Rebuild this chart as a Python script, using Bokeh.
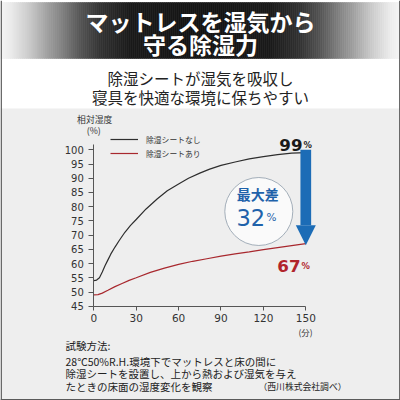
import numpy as np
from bokeh.plotting import figure
from bokeh.models import (Range1d, Label, Legend, LegendItem, Arrow, NormalHead,
                          FixedTicker)
from bokeh.core.properties import value
from bokeh.embed import file_html
from bokeh.resources import INLINE

# ---------------- data ----------------
title_lines = ["マットレスを湿気から", "守る除湿力"]
subtitle_lines = ["除湿シートが湿気を吸収し", "寝具を快適な環境に保ちやすい"]
series_names = ["除湿シートなし", "除湿シートあり"]

minutes_without = [0, 2, 4, 6, 8, 10, 12, 15, 18, 22, 26, 30, 37, 45, 52, 60,
                   67, 75, 82, 90, 100, 110, 120, 130, 140, 150]
humidity_without = [54.0, 54.2, 55.0, 57.0, 59.3, 61.3, 63.3, 65.8, 68.1, 71.0,
                    73.4, 75.5, 79.2, 82.8, 85.6, 88.0, 90.0, 91.8, 93.2, 94.5,
                    95.7, 96.8, 97.6, 98.3, 98.8, 99.0]

minutes_with = [0, 3, 6, 10, 15, 20, 25, 30, 40, 50, 60, 70, 80, 90, 100, 110,
                120, 130, 140, 150]
humidity_with = [49.0, 49.1, 49.6, 50.6, 51.9, 53.0, 54.1, 55.0, 56.9, 58.4,
                 59.7, 60.8, 61.7, 62.6, 63.4, 64.1, 64.9, 65.6, 66.3, 67.0]

x_ticks = [0, 30, 60, 90, 120, 150]
y_ticks = [45, 50, 55, 60, 65, 70, 75, 80, 85, 90, 95, 100]
y_axis_title = ["相対湿度", "(%)"]
x_axis_unit = "(分)"
diff_title = "最大差"
percent_sign = "%"
note_lines = ["試験方法:",
              "28℃50%R.H.環境下でマットレスと床の間に",
              "除湿シートを設置し、上から熱および湿気を与え",
              "たときの床面の湿度変化を観察"]
note_source = "（西川株式会社調べ）"

# ---------------- placement helpers (design pixel -> data units) ----------------
W = 400
X0_PX, X_PER = 93.3, 1.4133     # x=0 position and pixels per minute
Y100_PX, Y_PER = 149.3, 2.844   # y=100 position and pixels per %


def dx(px):
    return (np.asarray(px, dtype=float) - X0_PX) / X_PER


def dy(py):
    return 100 - (np.asarray(py, dtype=float) - Y100_PX) / Y_PER


JP = "Noto Sans CJK JP"
BLUE = "#1c6cb6"
DARK = "#2e2e2e"
RED_LINE = "#a8282e"
RED_TXT = "#b1242b"

p = figure(width=W, height=W,
           x_range=Range1d(float(dx(0)), float(dx(W))),
           y_range=Range1d(float(dy(W)), float(dy(0))),
           min_border=0, output_backend="svg", toolbar_location=None)
p.grid.visible = False
p.outline_line_color = None
p.background_fill_color = "white"
p.border_fill_color = "white"

# background panel of the chart area
p.quad(left=[dx(0)], right=[dx(400)], top=[dy(108)], bottom=[dy(400)],
       fill_color="#eeeeee", line_color=None)

# header gradient band
edges = np.linspace(0, 400, 201)
centers = (edges[:-1] + edges[1:]) / 2
dist = np.minimum(centers, 400 - centers)
gray = np.interp(dist, [0, 10, 30, 50, 60, 80, 100, 130, 200],
                 [245, 236, 200, 153, 133, 85, 51, 26, 20]).astype(int)
band_colors = ["#%02x%02x%02x" % (v, v, v) for v in gray]
p.quad(left=dx(edges[:-1]), right=dx(edges[1:]), top=dy(2), bottom=dy(58),
       fill_color=band_colors, line_color=band_colors, line_width=0.6)

# outer frame lines
p.quad(left=dx([0, 398.6, 0]), right=dx([1.4, 400, 400]),
       top=dy([0, 0, 398.6]), bottom=dy([400, 400, 400]),
       fill_color="#5a5a5a", line_color=None)

p.text(x=dx([200, 200]), y=dy([20, 43]), text=title_lines, text_font=value(JP),
       text_font_style="bold", text_font_size="23px", text_color="white",
       text_align="center", text_baseline="middle")
p.text(x=dx([200, 200]), y=dy([77.8, 96]), text=subtitle_lines, text_font=value(JP),
       text_font_size="15.5px", text_color="#222222",
       text_align="center", text_baseline="middle")

# ---------------- axes ----------------
p.xaxis.ticker = FixedTicker(ticks=x_ticks)
p.yaxis.ticker = FixedTicker(ticks=y_ticks)
p.xaxis.fixed_location = y_ticks[0]
p.yaxis.fixed_location = x_ticks[0]
p.xaxis.bounds = (x_ticks[0], x_ticks[-1])
p.yaxis.bounds = (y_ticks[0], 102)
for ax in (p.xaxis[0], p.yaxis[0]):
    ax.axis_line_color = "#555555"
    ax.major_tick_line_color = "#555555"
    ax.minor_tick_line_color = None
    ax.major_tick_in = 0
    ax.major_label_text_font = "DejaVu Sans"
    ax.major_label_text_color = "#333333"
p.xaxis.major_tick_out = 4
p.xaxis.major_label_standoff = 4
p.xaxis.major_label_text_font_size = "10.5px"
p.yaxis.major_tick_out = 5
p.yaxis.major_label_standoff = 5
p.yaxis.major_label_text_font_size = "10px"

# ---------------- series ----------------
r1 = p.line(minutes_without, humidity_without, line_color=DARK, line_width=1.2)
r2 = p.line(minutes_with, humidity_with, line_color=RED_LINE, line_width=1.2)

ROW = 14
legend_top = 139.3 - ROW / 2
legend = Legend(items=[LegendItem(label=series_names[0], renderers=[r1]),
                       LegendItem(label=series_names[1], renderers=[r2])],
                location=(110, W - legend_top - 2 * ROW),
                margin=0, padding=0, spacing=0,
                glyph_width=28, glyph_height=ROW, label_height=ROW, label_standoff=8,
                label_text_font_size="7.8px", label_text_font=JP,
                label_text_color="#333333", background_fill_alpha=0,
                border_line_color=None)
p.add_layout(legend)

# difference circle
p.scatter(x=[dx(258.3)], y=[dy(211)], size=68, marker="circle", fill_color="#fafafa",
          line_color="#8e9caa", line_width=0.8)

end_without = humidity_without[-1]
end_with = humidity_with[-1]
diff = round(end_without - end_with)

p.add_layout(Arrow(end=NormalHead(size=20, fill_color=BLUE, line_color=BLUE, line_width=0),
                   x_start=minutes_without[-1], y_start=end_without + 1,
                   x_end=minutes_with[-1], y_end=end_with - 0.6,
                   line_color=BLUE, line_width=10.7, line_cap="butt"))


def lab(px, py, text, size, color, font=JP, style="normal", align="left",
        baseline="middle"):
    p.add_layout(Label(x=float(dx(px)), y=float(dy(py)), text=text, text_font=font,
                       text_font_size=size, text_color=color, text_font_style=style,
                       text_align=align, text_baseline=baseline))


lab(257.3, 193.3, diff_title, "14px", "#1f62aa", style="bold", align="center")
lab(236.0, 216.7, f"{diff}", "22.5px", "#1f62aa", font="DejaVu Sans", baseline="alphabetic")
lab(266.0, 216.7, percent_sign, "10.5px", "#1f62aa", font="DejaVu Sans", baseline="alphabetic")

lab(302.0, 144.0, f"{end_without:.0f}", "16.7px", "#1a1a1a", font="DejaVu Sans",
    style="bold", align="right", baseline="alphabetic")
lab(303.0, 144.0, percent_sign, "8.4px", "#1a1a1a", font="DejaVu Sans", style="bold",
    baseline="alphabetic")
lab(300.0, 265.7, f"{end_with:.0f}", "16.7px", RED_TXT, font="DejaVu Sans",
    style="bold", align="right", baseline="alphabetic")
lab(301.0, 265.7, percent_sign, "8.4px", RED_TXT, font="DejaVu Sans", style="bold",
    baseline="alphabetic")

# axis titles
lab(94.2, 119, y_axis_title[0], "8.8px", "#333333", align="center")
lab(93.3, 130, y_axis_title[1], "8.8px", "#333333", align="center")
lab(305, 331, x_axis_unit, "8.4px", "#333333", align="center")

# footnote
for txt, yy in zip(note_lines, [345, 360.7, 373.3, 385.7]):
    lab(65, yy, txt, "10.5px", "#222222")
lab(258, 385.7, note_source, "8.8px", "#222222")

open("out.html", "w").write(file_html(p, INLINE))
